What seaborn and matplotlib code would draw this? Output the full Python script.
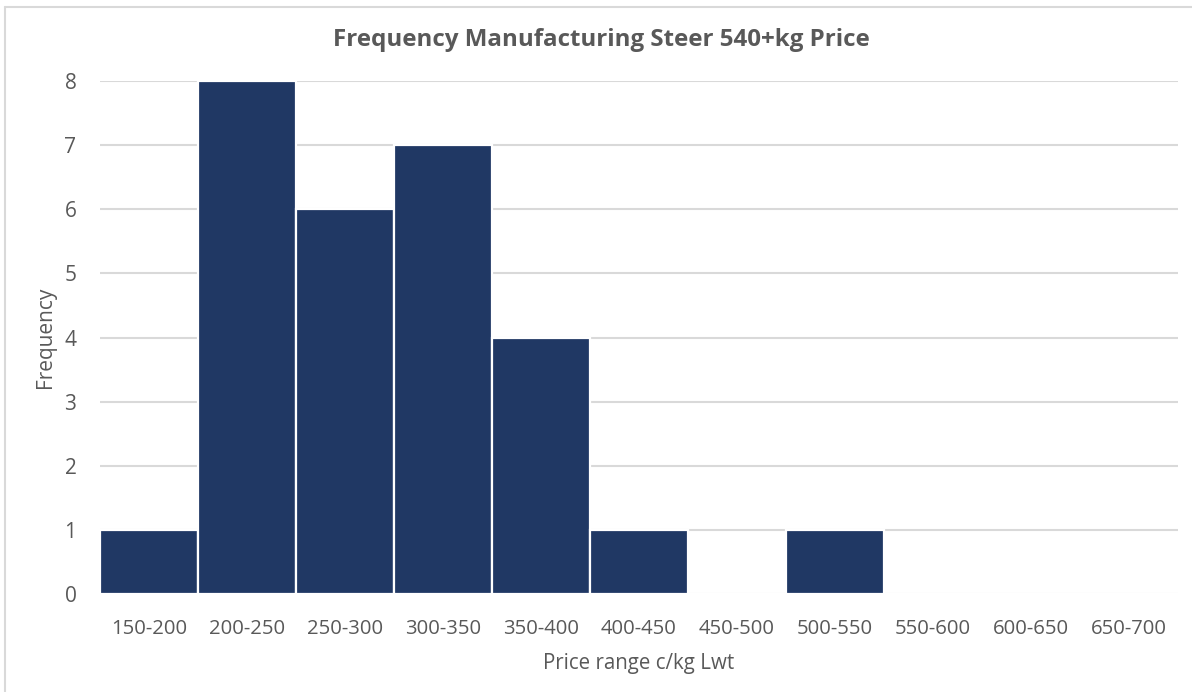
import matplotlib
matplotlib.use("Agg")
import matplotlib.pyplot as plt
import seaborn as sns
import pandas as pd
from matplotlib.lines import Line2D

# Price bins (c/kg live weight) and number of observations in each
price_ranges = ["150-200", "200-250", "250-300", "300-350", "350-400", "400-450",
                "450-500", "500-550", "550-600", "600-650", "650-700"]
frequency = [1, 8, 6, 7, 4, 1, 0, 1, 0, 0, 0]
y_ticks = [0, 1, 2, 3, 4, 5, 6, 7, 8]

df = pd.DataFrame({"range": price_ranges, "freq": frequency})

sns.set_theme(style="white")
plt.rcParams["font.family"] = ["Open Sans", "DejaVu Sans"]

text_color = "#595959"
bar_color = "#203864"
grid_color = "#d9d9d9"

fig = plt.figure(figsize=(11.92, 6.92), dpi=100)
ax = fig.add_axes([100 / 1192, 1 - 594 / 692, (1178 - 100) / 1192, (594 - 81) / 692])

sns.barplot(data=df, x="range", y="freq", color=bar_color, width=1.0,
            edgecolor="white", linewidth=1.6, saturation=1, ax=ax, zorder=3)

ax.set_ylim(0, 8)
ax.set_xlim(-0.5, len(price_ranges) - 0.5)
ax.set_yticks(y_ticks)
ax.yaxis.grid(True, color=grid_color, linewidth=1.5, zorder=0)
ax.xaxis.grid(False)
for s in ax.spines.values():
    s.set_visible(False)
ax.tick_params(axis="both", length=0, labelsize=14.6, colors=text_color)
ax.tick_params(axis="x", pad=18)
ax.tick_params(axis="y", labelsize=15, pad=17)

ax.set_xlabel("Price range c/kg Lwt", fontsize=14.8, color=text_color, labelpad=10)
ax.set_ylabel("Frequency", fontsize=15, color=text_color, labelpad=6)

fig.text(601 / 1192, 1 - 40 / 692, "Frequency Manufacturing Steer 540+kg Price",
         ha="center", va="center", fontsize=17.4, fontweight="bold", color=text_color)

# Chart frame along the top and left edges
fig.add_artist(Line2D([4.5 / 1192, 4.5 / 1192], [0, 1 - 6.5 / 692],
                      transform=fig.transFigure, color="#d9d9d9", linewidth=1.5))
fig.add_artist(Line2D([4.5 / 1192, 1], [1 - 6.5 / 692, 1 - 6.5 / 692],
                      transform=fig.transFigure, color="#d9d9d9", linewidth=1.5))

fig.savefig("out.png", dpi=100, facecolor="white")
